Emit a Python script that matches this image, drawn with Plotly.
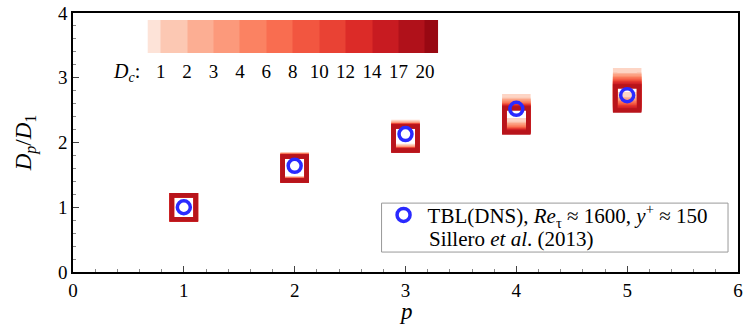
import plotly.graph_objects as go

# ---------------- data ----------------
p_values = [1, 2, 3, 4, 5]
dc_levels = [1, 2, 3, 4, 6, 8, 10, 12, 14, 17, 20]
dc_labels = ["1", "2", "3", "4", "6", "8", "10", "12", "14", "17", "20"]

# D_p/D_1 for each Dc (same order as dc_levels), one list per p
ratio_p1 = [1.00, 1.00, 1.00, 1.00, 1.00, 1.00, 1.00, 1.00, 1.00, 1.00, 1.00]
ratio_p2 = [1.63, 1.62, 1.62, 1.61, 1.61, 1.61, 1.60, 1.60, 1.60, 1.60, 1.60]
ratio_p3 = [2.13, 2.11, 2.10, 2.09, 2.08, 2.08, 2.07, 2.07, 2.07, 2.06, 2.06]
ratio_p4 = [2.53, 2.47, 2.45, 2.43, 2.41, 2.39, 2.38, 2.37, 2.36, 2.35, 2.34]
ratio_p5 = [2.93, 2.86, 2.84, 2.81, 2.79, 2.77, 2.75, 2.73, 2.71, 2.69, 2.68]

dns_ratio = [1.00, 1.64, 2.13, 2.52, 2.73]

legend_line1 = "TBL(DNS), <i>Re</i><sub>τ</sub> ≈ 1600, <i>y</i><sup>+</sup> ≈ 150"
legend_line2 = "Sillero <i>et al</i>. (2013)"

# colour bands of the Dc legend (12 bands, levels at the band boundaries)
band_colors = ["#fde3d8", "#fcc8b3", "#fcae93", "#fc997b", "#fb8262",
               "#f96d50", "#f25640", "#e94234", "#dc2b28", "#c81b21",
               "#b0111a", "#980812"]
marker_colors = ["#fdd5c5", "#fcbba3", "#fca386", "#fb8e6e", "#fa7859",
                 "#f66148", "#ee4c3a", "#e3372e", "#d8282a", "#c91c22",
                 "#b8141b"]

serif = "Liberation Serif, Times New Roman, Times, serif"

fig = go.Figure()

ratios = [ratio_p1, ratio_p2, ratio_p3, ratio_p4, ratio_p5]
for i, dc in enumerate(dc_levels):
    fig.add_trace(go.Scatter(
        x=p_values, y=[r[i] for r in ratios], mode="markers",
        marker=dict(symbol="square-open", size=24, color=marker_colors[i],
                    line=dict(width=4.5, color=marker_colors[i])),
        showlegend=False, name=f"Dc={dc}"))

fig.add_trace(go.Scatter(
    x=p_values, y=dns_ratio, mode="markers",
    marker=dict(symbol="circle-open", size=13, color="#2a2aff",
                line=dict(width=3.5, color="#2a2aff")),
    name=legend_line1, showlegend=True))

# discrete colour legend as a heatmap on its own axes
band_edges = [0, 0.5] + [k + 1.5 for k in range(10)] + [11]
fig.add_trace(go.Heatmap(
    x=band_edges, y=[0, 1], z=[list(range(12))],
    colorscale=[[k / 11, c] for k, c in enumerate(band_colors)],
    zmin=0, zmax=11, showscale=False, xaxis="x2", yaxis="y2",
    hoverinfo="skip"))

fig.update_layout(
    width=746, height=327,
    margin=dict(l=73, r=3, t=13, b=55),
    plot_bgcolor="white", paper_bgcolor="white",
    font=dict(family=serif, size=19, color="black"),
    xaxis=dict(range=[0, 6], dtick=1, ticks="inside", ticklen=6,
               showline=True, linecolor="black", linewidth=1.5, mirror=True,
               showgrid=False, zeroline=False, tickfont=dict(size=19),
               minor=dict(ticks="inside", dtick=0.2, ticklen=3, tickcolor="#888")),
    yaxis=dict(range=[0, 4], dtick=1, ticks="inside", ticklen=6,
               showline=True, linecolor="black", linewidth=1.5, mirror=True,
               showgrid=False, zeroline=False, tickfont=dict(size=19),
               minor=dict(ticks="inside", dtick=0.2, ticklen=3, tickcolor="#888"),
               title=dict(text="<i>D<sub>p</sub></i>/<i>D</i><sub>1</sub>",
                          font=dict(size=23), standoff=20)),
    xaxis2=dict(domain=[0.112, 0.549], anchor="y2", range=[0, 11],
                tickvals=[k + 0.5 for k in range(11)], ticktext=dc_labels,
                ticks="", showline=False, showgrid=False, zeroline=False,
                ticklabelstandoff=5, tickfont=dict(size=19)),
    yaxis2=dict(domain=[0.846, 0.973], anchor="x2", range=[0, 1],
                showticklabels=False, ticks="", showline=False,
                showgrid=False, zeroline=False),
    legend=dict(x=0.461, y=0.219, xanchor="left", yanchor="middle",
                bgcolor="rgba(0,0,0,0)", borderwidth=0,
                font=dict(family=serif, size=21), itemwidth=38),
    shapes=[dict(type="rect", xref="paper", yref="paper",
                 x0=0.464, x1=0.985, y0=0.077, y1=0.266,
                 line=dict(color="#999", width=1), fillcolor="white",
                 layer="below")],
    annotations=[
        dict(text="<i>p</i>", xref="paper", yref="paper",
             x=0.5, y=-0.152, xanchor="center", yanchor="middle",
             showarrow=False, font=dict(size=23)),
        dict(text="<i>D<sub>c</sub></i>:", xref="paper", yref="paper",
             x=0.104, y=0.77, xanchor="right", yanchor="middle",
             showarrow=False, font=dict(size=20)),
        dict(text=legend_line2, xref="paper", yref="paper",
             x=0.533, y=0.126, xanchor="left", yanchor="middle",
             showarrow=False, font=dict(size=21)),
    ],
)

fig.write_html("out.html")
